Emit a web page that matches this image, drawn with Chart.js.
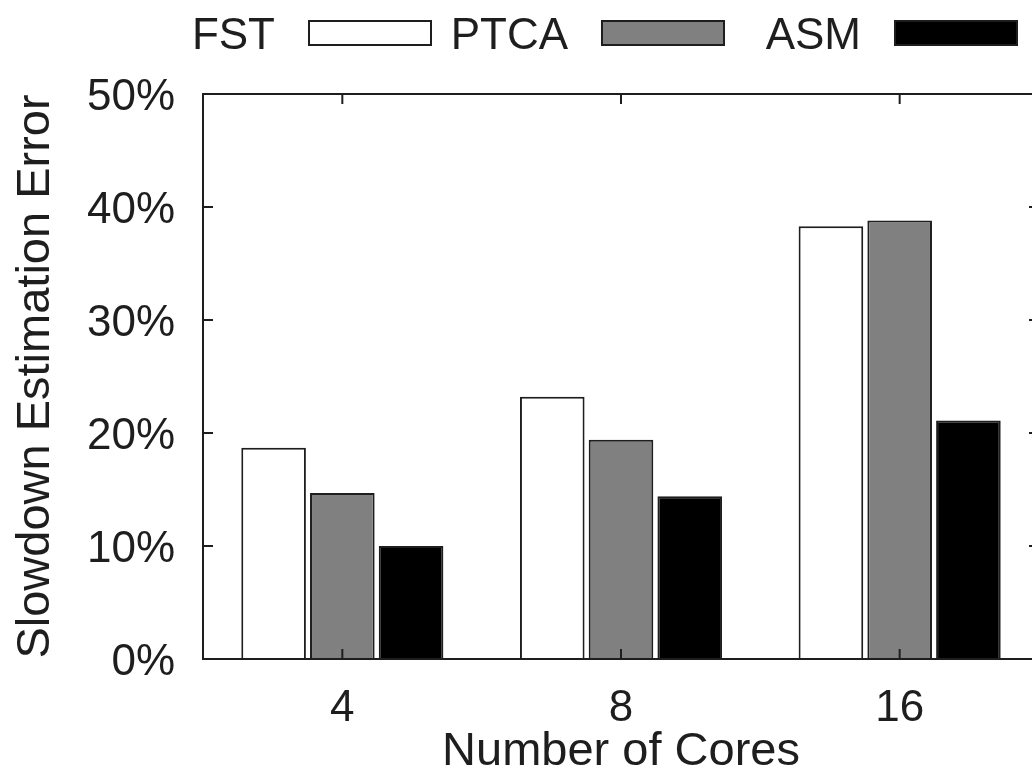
<!DOCTYPE html>
<html>
<head>
<meta charset="utf-8">
<script src="https://cdn.jsdelivr.net/npm/chart.js@4.4.1/dist/chart.umd.min.js"></script>
<style>
  html, body { margin: 0; padding: 0; background: #fff; overflow: hidden; }
  #wrap { width: 1050px; height: 772px; }
</style>
</head>
<body>
<div id="wrap"><canvas id="myChart" width="1050" height="772"></canvas></div>
<script>
let cores = ["4", "8", "16"];
let fst  = [18.7, 23.2, 38.3];
let ptca = [14.7, 19.4, 38.8];
let asm  = [10.0, 14.4, 21.1];
let yTicks = [0, 10, 20, 30, 40, 50];

const ink = "#1e1e1e";
const fontFamily = "'Liberation Sans', Arial, sans-serif";

// gnuplot style frame: full border box with inward ticks on all sides
let frame = {
  id: "frame",
  afterDatasetsDraw(chart) {
    let ctx = chart.ctx, a = chart.chartArea;
    let x = chart.scales.x, y = chart.scales.y;
    ctx.save();
    ctx.strokeStyle = ink;
    ctx.lineWidth = 2;
    ctx.strokeRect(a.left, a.top, a.right - a.left, a.bottom - a.top);
    ctx.beginPath();
    yTicks.forEach((v) => {
      let py = y.getPixelForValue(v);
      ctx.moveTo(a.left, py); ctx.lineTo(a.left + 10, py);
      ctx.moveTo(a.right, py); ctx.lineTo(a.right - 10, py);
    });
    cores.forEach((c, i) => {
      let px = x.getPixelForValue(i);
      ctx.moveTo(px, a.top); ctx.lineTo(px, a.top + 10);
      ctx.moveTo(px, a.bottom); ctx.lineTo(px, a.bottom - 10);
    });
    ctx.stroke();
    ctx.restore();
  },
  // key: label first, sample box after it
  afterDraw(chart) {
    let ctx = chart.ctx;
    let textEnds = [275, 568, 861];
    ctx.save();
    ctx.font = "44px " + fontFamily;
    ctx.textAlign = "right";
    ctx.textBaseline = "alphabetic";
    chart.data.datasets.forEach((ds, i) => {
      let tx = textEnds[i];
      ctx.fillStyle = ink;
      ctx.fillText(ds.label, tx, 49);
      ctx.fillStyle = ds.backgroundColor;
      ctx.fillRect(tx + 34, 21, 122, 24);
      ctx.strokeStyle = ink;
      ctx.lineWidth = 2;
      ctx.strokeRect(tx + 34, 21, 122, 24);
    });
    ctx.restore();
  }
};

let ctx = document.getElementById("myChart").getContext("2d");
let myChart = new Chart(ctx, {
  type: "bar",
  data: {
    labels: cores,
    datasets: [
      { label: "FST",  data: fst,  backgroundColor: "#ffffff" },
      { label: "PTCA", data: ptca, backgroundColor: "#808080" },
      { label: "ASM",  data: asm,  backgroundColor: "#000000" }
    ]
  },
  options: {
    responsive: false,
    animation: false,
    layout: { padding: { top: 94, right: 11, left: 0, bottom: 0 } },
    datasets: {
      bar: {
        borderColor: ink,
        borderWidth: 2,
        categoryPercentage: 0.74,
        barPercentage: 0.94
      }
    },
    plugins: { legend: { display: false }, tooltip: { enabled: false } },
    scales: {
      x: {
        grid: { display: false },
        border: { display: false },
        ticks: { color: ink, font: { family: fontFamily, size: 44 }, padding: 15 },
        title: {
          display: true,
          text: "Number of Cores",
          color: ink,
          font: { family: fontFamily, size: 47 },
          padding: { top: 0, bottom: -8 }
        },
        afterFit(scale) { scale.height = 113; }
      },
      y: {
        min: 0,
        max: 50,
        grid: { display: false },
        border: { display: false },
        ticks: {
          stepSize: 10,
          color: ink,
          font: { family: fontFamily, size: 44 },
          padding: 20,
          labelOffset: 4,
          callback: (v) => v + "%"
        },
        title: {
          display: true,
          text: "Slowdown Estimation Error",
          color: ink,
          font: { family: fontFamily, size: 47 },
          padding: { top: 8, bottom: 0 }
        },
        afterFit(scale) { scale.width = 203; }
      }
    }
  },
  plugins: [frame]
});
</script>
</body>
</html>
